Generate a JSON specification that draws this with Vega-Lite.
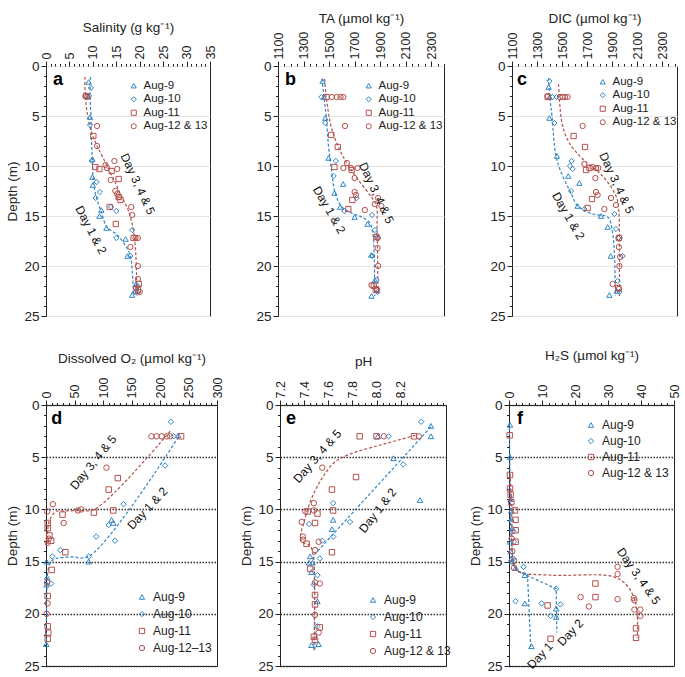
{
"$schema": "https://vega.github.io/schema/vega-lite/v6.json",
"padding": {"left": 5, "top": 10, "right": 5, "bottom": 5},
"datasets": {
"pts": [
{"p":"a","s":"Aug-9","v":9.1,"depth":1.6},{"p":"a","s":"Aug-9","v":9.0,"depth":3.0},{"p":"a","s":"Aug-9","v":9.4,"depth":5.1},{"p":"a","s":"Aug-9","v":9.9,"depth":9.3},{"p":"a","s":"Aug-9","v":9.9,"depth":11.1},{"p":"a","s":"Aug-9","v":10.0,"depth":11.9},{"p":"a","s":"Aug-9","v":11.8,"depth":14.4},{"p":"a","s":"Aug-9","v":11.4,"depth":15.0},{"p":"a","s":"Aug-9","v":12.9,"depth":16.2},{"p":"a","s":"Aug-9","v":17.0,"depth":17.3},{"p":"a","s":"Aug-9","v":17.4,"depth":19.0},{"p":"a","s":"Aug-9","v":19.2,"depth":21.8},{"p":"a","s":"Aug-9","v":19.5,"depth":22.5},{"p":"a","s":"Aug-9","v":18.4,"depth":22.9},
{"p":"a","s":"Aug-10","v":9.6,"depth":2.2},{"p":"a","s":"Aug-10","v":9.2,"depth":3.0},{"p":"a","s":"Aug-10","v":9.4,"depth":5.9},{"p":"a","s":"Aug-10","v":9.8,"depth":9.5},{"p":"a","s":"Aug-10","v":10.8,"depth":11.6},{"p":"a","s":"Aug-10","v":11.5,"depth":12.6},{"p":"a","s":"Aug-10","v":10.6,"depth":13.2},{"p":"a","s":"Aug-10","v":13.9,"depth":14.1},{"p":"a","s":"Aug-10","v":15.0,"depth":14.5},{"p":"a","s":"Aug-10","v":18.4,"depth":16.4},{"p":"a","s":"Aug-10","v":15.0,"depth":17.2},{"p":"a","s":"Aug-10","v":18.0,"depth":19.0},{"p":"a","s":"Aug-10","v":19.6,"depth":22.0},{"p":"a","s":"Aug-10","v":19.0,"depth":22.6},
{"p":"a","s":"Aug-11","v":8.6,"depth":3.0},{"p":"a","s":"Aug-11","v":10.1,"depth":7.0},{"p":"a","s":"Aug-11","v":10.5,"depth":10.1},{"p":"a","s":"Aug-11","v":11.4,"depth":10.3},{"p":"a","s":"Aug-11","v":14.0,"depth":10.5},{"p":"a","s":"Aug-11","v":15.5,"depth":11.3},{"p":"a","s":"Aug-11","v":15.5,"depth":13.1},{"p":"a","s":"Aug-11","v":15.9,"depth":13.4},{"p":"a","s":"Aug-11","v":13.6,"depth":14.1},{"p":"a","s":"Aug-11","v":14.9,"depth":15.8},{"p":"a","s":"Aug-11","v":18.7,"depth":17.2},{"p":"a","s":"Aug-11","v":19.8,"depth":21.8},{"p":"a","s":"Aug-11","v":19.6,"depth":22.4},
{"p":"a","s":"Aug-12 & 13","v":8.4,"depth":3.0},{"p":"a","s":"Aug-12 & 13","v":8.8,"depth":3.1},{"p":"a","s":"Aug-12 & 13","v":10.9,"depth":6.0},{"p":"a","s":"Aug-12 & 13","v":10.9,"depth":8.0},{"p":"a","s":"Aug-12 & 13","v":14.6,"depth":9.5},{"p":"a","s":"Aug-12 & 13","v":12.7,"depth":9.9},{"p":"a","s":"Aug-12 & 13","v":13.0,"depth":10.2},{"p":"a","s":"Aug-12 & 13","v":15.2,"depth":10.3},{"p":"a","s":"Aug-12 & 13","v":13.8,"depth":11.4},{"p":"a","s":"Aug-12 & 13","v":14.8,"depth":12.5},{"p":"a","s":"Aug-12 & 13","v":15.2,"depth":12.8},{"p":"a","s":"Aug-12 & 13","v":15.6,"depth":13.1},{"p":"a","s":"Aug-12 & 13","v":18.2,"depth":14.1},{"p":"a","s":"Aug-12 & 13","v":18.4,"depth":14.9},{"p":"a","s":"Aug-12 & 13","v":19.1,"depth":17.2},{"p":"a","s":"Aug-12 & 13","v":19.6,"depth":17.2},{"p":"a","s":"Aug-12 & 13","v":18.0,"depth":18.1},{"p":"a","s":"Aug-12 & 13","v":19.6,"depth":20.0},{"p":"a","s":"Aug-12 & 13","v":19.6,"depth":21.3},{"p":"a","s":"Aug-12 & 13","v":19.2,"depth":22.2},{"p":"a","s":"Aug-12 & 13","v":20.0,"depth":22.6},

{"p":"b","s":"Aug-9","v":1449,"depth":1.5},{"p":"b","s":"Aug-9","v":1460,"depth":3.1},{"p":"b","s":"Aug-9","v":1470,"depth":5.2},{"p":"b","s":"Aug-9","v":1496,"depth":9.2},{"p":"b","s":"Aug-9","v":1610,"depth":11.8},{"p":"b","s":"Aug-9","v":1542,"depth":12.7},{"p":"b","s":"Aug-9","v":1587,"depth":14.1},{"p":"b","s":"Aug-9","v":1700,"depth":15.1},{"p":"b","s":"Aug-9","v":1801,"depth":15.8},{"p":"b","s":"Aug-9","v":1830,"depth":18.9},{"p":"b","s":"Aug-9","v":1860,"depth":21.4},{"p":"b","s":"Aug-9","v":1832,"depth":23.0},
{"p":"b","s":"Aug-10","v":1440,"depth":3.1},{"p":"b","s":"Aug-10","v":1470,"depth":5.7},{"p":"b","s":"Aug-10","v":1553,"depth":9.5},{"p":"b","s":"Aug-10","v":1535,"depth":11.0},{"p":"b","s":"Aug-10","v":1716,"depth":13.2},{"p":"b","s":"Aug-10","v":1620,"depth":14.5},{"p":"b","s":"Aug-10","v":1837,"depth":14.9},{"p":"b","s":"Aug-10","v":1858,"depth":16.4},{"p":"b","s":"Aug-10","v":1870,"depth":17.0},{"p":"b","s":"Aug-10","v":1885,"depth":17.2},{"p":"b","s":"Aug-10","v":1840,"depth":19.0},{"p":"b","s":"Aug-10","v":1871,"depth":21.4},{"p":"b","s":"Aug-10","v":1880,"depth":22.6},
{"p":"b","s":"Aug-11","v":1480,"depth":3.1},{"p":"b","s":"Aug-11","v":1517,"depth":6.9},{"p":"b","s":"Aug-11","v":1568,"depth":8.1},{"p":"b","s":"Aug-11","v":1542,"depth":10.1},{"p":"b","s":"Aug-11","v":1677,"depth":10.4},{"p":"b","s":"Aug-11","v":1682,"depth":13.4},{"p":"b","s":"Aug-11","v":1651,"depth":14.3},{"p":"b","s":"Aug-11","v":1870,"depth":17.1},{"p":"b","s":"Aug-11","v":1850,"depth":22.0},{"p":"b","s":"Aug-11","v":1866,"depth":22.4},
{"p":"b","s":"Aug-12 & 13","v":1522,"depth":3.1},{"p":"b","s":"Aug-12 & 13","v":1560,"depth":3.1},{"p":"b","s":"Aug-12 & 13","v":1590,"depth":3.1},{"p":"b","s":"Aug-12 & 13","v":1612,"depth":3.1},{"p":"b","s":"Aug-12 & 13","v":1625,"depth":6.0},{"p":"b","s":"Aug-12 & 13","v":1640,"depth":9.7},{"p":"b","s":"Aug-12 & 13","v":1612,"depth":10.2},{"p":"b","s":"Aug-12 & 13","v":1672,"depth":10.2},{"p":"b","s":"Aug-12 & 13","v":1723,"depth":10.2},{"p":"b","s":"Aug-12 & 13","v":1700,"depth":11.2},{"p":"b","s":"Aug-12 & 13","v":1700,"depth":12.6},{"p":"b","s":"Aug-12 & 13","v":1710,"depth":12.9},{"p":"b","s":"Aug-12 & 13","v":1884,"depth":13.2},{"p":"b","s":"Aug-12 & 13","v":1858,"depth":13.8},{"p":"b","s":"Aug-12 & 13","v":1910,"depth":14.0},{"p":"b","s":"Aug-12 & 13","v":1780,"depth":14.4},{"p":"b","s":"Aug-12 & 13","v":1880,"depth":17.2},{"p":"b","s":"Aug-12 & 13","v":1880,"depth":18.2},{"p":"b","s":"Aug-12 & 13","v":1884,"depth":20.0},{"p":"b","s":"Aug-12 & 13","v":1832,"depth":21.9},{"p":"b","s":"Aug-12 & 13","v":1875,"depth":22.3},

{"p":"c","s":"Aug-9","v":1393,"depth":2.1},{"p":"c","s":"Aug-9","v":1400,"depth":3.1},{"p":"c","s":"Aug-9","v":1399,"depth":5.2},{"p":"c","s":"Aug-9","v":1460,"depth":9.0},{"p":"c","s":"Aug-9","v":1550,"depth":11.0},{"p":"c","s":"Aug-9","v":1639,"depth":11.7},{"p":"c","s":"Aug-9","v":1625,"depth":14.0},{"p":"c","s":"Aug-9","v":1812,"depth":15.0},{"p":"c","s":"Aug-9","v":1865,"depth":16.1},{"p":"c","s":"Aug-9","v":1890,"depth":19.0},{"p":"c","s":"Aug-9","v":1940,"depth":22.5},{"p":"c","s":"Aug-9","v":1879,"depth":22.9},
{"p":"c","s":"Aug-10","v":1399,"depth":1.5},{"p":"c","s":"Aug-10","v":1425,"depth":3.1},{"p":"c","s":"Aug-10","v":1457,"depth":3.1},{"p":"c","s":"Aug-10","v":1439,"depth":5.7},{"p":"c","s":"Aug-10","v":1577,"depth":9.5},{"p":"c","s":"Aug-10","v":1564,"depth":10.0},{"p":"c","s":"Aug-10","v":1585,"depth":10.3},{"p":"c","s":"Aug-10","v":1572,"depth":12.5},{"p":"c","s":"Aug-10","v":1679,"depth":14.3},{"p":"c","s":"Aug-10","v":1919,"depth":14.8},{"p":"c","s":"Aug-10","v":1932,"depth":16.3},{"p":"c","s":"Aug-10","v":1950,"depth":17.2},{"p":"c","s":"Aug-10","v":1985,"depth":19.0},{"p":"c","s":"Aug-10","v":1945,"depth":21.5},{"p":"c","s":"Aug-10","v":1960,"depth":22.6},
{"p":"c","s":"Aug-11","v":1385,"depth":3.1},{"p":"c","s":"Aug-11","v":1593,"depth":7.0},{"p":"c","s":"Aug-11","v":1684,"depth":8.1},{"p":"c","s":"Aug-11","v":1692,"depth":10.4},{"p":"c","s":"Aug-11","v":1720,"depth":10.2},{"p":"c","s":"Aug-11","v":1740,"depth":13.3},{"p":"c","s":"Aug-11","v":1705,"depth":14.2},{"p":"c","s":"Aug-11","v":1955,"depth":17.2},{"p":"c","s":"Aug-11","v":1950,"depth":22.2},
{"p":"c","s":"Aug-12 & 13","v":1385,"depth":3.0},{"p":"c","s":"Aug-12 & 13","v":1484,"depth":3.1},{"p":"c","s":"Aug-12 & 13","v":1505,"depth":3.1},{"p":"c","s":"Aug-12 & 13","v":1525,"depth":3.1},{"p":"c","s":"Aug-12 & 13","v":1545,"depth":3.1},{"p":"c","s":"Aug-12 & 13","v":1665,"depth":6.0},{"p":"c","s":"Aug-12 & 13","v":1679,"depth":9.8},{"p":"c","s":"Aug-12 & 13","v":1745,"depth":10.1},{"p":"c","s":"Aug-12 & 13","v":1772,"depth":10.2},{"p":"c","s":"Aug-12 & 13","v":1790,"depth":10.2},{"p":"c","s":"Aug-12 & 13","v":1767,"depth":11.2},{"p":"c","s":"Aug-12 & 13","v":1772,"depth":12.6},{"p":"c","s":"Aug-12 & 13","v":1785,"depth":12.9},{"p":"c","s":"Aug-12 & 13","v":1892,"depth":13.2},{"p":"c","s":"Aug-12 & 13","v":1839,"depth":14.3},{"p":"c","s":"Aug-12 & 13","v":1932,"depth":13.9},{"p":"c","s":"Aug-12 & 13","v":1960,"depth":17.2},{"p":"c","s":"Aug-12 & 13","v":1955,"depth":18.1},{"p":"c","s":"Aug-12 & 13","v":1965,"depth":19.1},{"p":"c","s":"Aug-12 & 13","v":1959,"depth":20.0},{"p":"c","s":"Aug-12 & 13","v":1905,"depth":21.8},{"p":"c","s":"Aug-12 & 13","v":1955,"depth":22.3},

{"p":"d","s":"Aug-9","v":232,"depth":2.9},{"p":"d","s":"Aug-9","v":115,"depth":11.0},{"p":"d","s":"Aug-9","v":118,"depth":11.3},{"p":"d","s":"Aug-9","v":75,"depth":15.0},{"p":"d","s":"Aug-9","v":1,"depth":15.0},{"p":"d","s":"Aug-9","v":2,"depth":16.5},{"p":"d","s":"Aug-9","v":1,"depth":17.2},{"p":"d","s":"Aug-9","v":0.5,"depth":22.9},
{"p":"d","s":"Aug-10","v":219,"depth":1.6},{"p":"d","s":"Aug-10","v":224,"depth":3.0},{"p":"d","s":"Aug-10","v":209,"depth":5.8},{"p":"d","s":"Aug-10","v":136,"depth":9.5},{"p":"d","s":"Aug-10","v":110,"depth":11.5},{"p":"d","s":"Aug-10","v":88,"depth":12.6},{"p":"d","s":"Aug-10","v":121,"depth":13.0},{"p":"d","s":"Aug-10","v":25,"depth":13.9},{"p":"d","s":"Aug-10","v":11,"depth":14.5},{"p":"d","s":"Aug-10","v":75,"depth":14.5},{"p":"d","s":"Aug-10","v":9,"depth":17.1},
{"p":"d","s":"Aug-11","v":237,"depth":3.0},{"p":"d","s":"Aug-11","v":126,"depth":7.0},{"p":"d","s":"Aug-11","v":110,"depth":8.1},{"p":"d","s":"Aug-11","v":84,"depth":10.3},{"p":"d","s":"Aug-11","v":118,"depth":10.1},{"p":"d","s":"Aug-11","v":29,"depth":10.5},{"p":"d","s":"Aug-11","v":3,"depth":11.3},{"p":"d","s":"Aug-11","v":3,"depth":11.8},{"p":"d","s":"Aug-11","v":6,"depth":12.5},{"p":"d","s":"Aug-11","v":9,"depth":13.0},{"p":"d","s":"Aug-11","v":34,"depth":14.1},{"p":"d","s":"Aug-11","v":10,"depth":15.8},{"p":"d","s":"Aug-11","v":3,"depth":18.3},{"p":"d","s":"Aug-11","v":3,"depth":21.2},{"p":"d","s":"Aug-11","v":4,"depth":21.8},{"p":"d","s":"Aug-11","v":3,"depth":22.4},
{"p":"d","s":"Aug-12 & 13","v":185,"depth":3.0},{"p":"d","s":"Aug-12 & 13","v":194,"depth":3.0},{"p":"d","s":"Aug-12 & 13","v":203,"depth":3.0},{"p":"d","s":"Aug-12 & 13","v":212,"depth":3.0},{"p":"d","s":"Aug-12 & 13","v":218,"depth":3.0},{"p":"d","s":"Aug-12 & 13","v":106,"depth":6.0},{"p":"d","s":"Aug-12 & 13","v":12,"depth":9.5},{"p":"d","s":"Aug-12 & 13","v":56,"depth":10.1},{"p":"d","s":"Aug-12 & 13","v":62,"depth":10.0},{"p":"d","s":"Aug-12 & 13","v":2,"depth":10.2},{"p":"d","s":"Aug-12 & 13","v":31,"depth":11.3},{"p":"d","s":"Aug-12 & 13","v":5,"depth":12.8},{"p":"d","s":"Aug-12 & 13","v":3,"depth":13.2},{"p":"d","s":"Aug-12 & 13","v":2,"depth":17.0},{"p":"d","s":"Aug-12 & 13","v":3,"depth":19.0},{"p":"d","s":"Aug-12 & 13","v":1,"depth":20.0},

{"p":"e","s":"Aug-9","v":8.45,"depth":2.0},{"p":"e","s":"Aug-9","v":8.45,"depth":3.0},{"p":"e","s":"Aug-9","v":8.01,"depth":3.0},{"p":"e","s":"Aug-9","v":8.14,"depth":5.1},{"p":"e","s":"Aug-9","v":8.36,"depth":9.1},{"p":"e","s":"Aug-9","v":7.64,"depth":11.0},{"p":"e","s":"Aug-9","v":7.63,"depth":11.9},{"p":"e","s":"Aug-9","v":7.45,"depth":14.5},{"p":"e","s":"Aug-9","v":7.44,"depth":15.1},{"p":"e","s":"Aug-9","v":7.47,"depth":15.1},{"p":"e","s":"Aug-9","v":7.46,"depth":16.0},{"p":"e","s":"Aug-9","v":7.51,"depth":18.8},{"p":"e","s":"Aug-9","v":7.46,"depth":23.0},{"p":"e","s":"Aug-9","v":7.52,"depth":22.9},
{"p":"e","s":"Aug-10","v":8.37,"depth":1.6},{"p":"e","s":"Aug-10","v":8.10,"depth":3.0},{"p":"e","s":"Aug-10","v":8.22,"depth":5.7},{"p":"e","s":"Aug-10","v":7.64,"depth":9.4},{"p":"e","s":"Aug-10","v":7.78,"depth":11.2},{"p":"e","s":"Aug-10","v":7.44,"depth":11.4},{"p":"e","s":"Aug-10","v":7.64,"depth":12.6},{"p":"e","s":"Aug-10","v":7.55,"depth":13.0},{"p":"e","s":"Aug-10","v":7.53,"depth":14.7},{"p":"e","s":"Aug-10","v":7.51,"depth":16.3},{"p":"e","s":"Aug-10","v":7.48,"depth":17.2},{"p":"e","s":"Aug-10","v":7.51,"depth":21.2},
{"p":"e","s":"Aug-11","v":8.31,"depth":3.0},{"p":"e","s":"Aug-11","v":7.86,"depth":3.0},{"p":"e","s":"Aug-11","v":8.0,"depth":3.0},{"p":"e","s":"Aug-11","v":7.83,"depth":6.9},{"p":"e","s":"Aug-11","v":7.63,"depth":8.1},{"p":"e","s":"Aug-11","v":7.43,"depth":10.2},{"p":"e","s":"Aug-11","v":7.51,"depth":10.4},{"p":"e","s":"Aug-11","v":7.64,"depth":10.1},{"p":"e","s":"Aug-11","v":7.49,"depth":11.3},{"p":"e","s":"Aug-11","v":7.42,"depth":13.3},{"p":"e","s":"Aug-11","v":7.63,"depth":14.1},{"p":"e","s":"Aug-11","v":7.45,"depth":15.7},{"p":"e","s":"Aug-11","v":7.49,"depth":18.2},{"p":"e","s":"Aug-11","v":7.49,"depth":19.1},{"p":"e","s":"Aug-11","v":7.53,"depth":21.3},{"p":"e","s":"Aug-11","v":7.48,"depth":22.2},{"p":"e","s":"Aug-11","v":7.49,"depth":22.5},
{"p":"e","s":"Aug-12 & 13","v":8.35,"depth":3.0},{"p":"e","s":"Aug-12 & 13","v":8.06,"depth":3.0},{"p":"e","s":"Aug-12 & 13","v":7.55,"depth":6.0},{"p":"e","s":"Aug-12 & 13","v":7.48,"depth":9.4},{"p":"e","s":"Aug-12 & 13","v":7.41,"depth":10.2},{"p":"e","s":"Aug-12 & 13","v":7.48,"depth":10.1},{"p":"e","s":"Aug-12 & 13","v":7.38,"depth":11.2},{"p":"e","s":"Aug-12 & 13","v":7.39,"depth":12.6},{"p":"e","s":"Aug-12 & 13","v":7.39,"depth":12.9},{"p":"e","s":"Aug-12 & 13","v":7.52,"depth":13.1},{"p":"e","s":"Aug-12 & 13","v":7.49,"depth":13.9},{"p":"e","s":"Aug-12 & 13","v":7.49,"depth":17.0},{"p":"e","s":"Aug-12 & 13","v":7.53,"depth":17.1},{"p":"e","s":"Aug-12 & 13","v":7.49,"depth":20.1},{"p":"e","s":"Aug-12 & 13","v":7.52,"depth":21.8},

{"p":"f","s":"Aug-9","v":0.3,"depth":1.9},{"p":"f","s":"Aug-9","v":0.3,"depth":5.0},{"p":"f","s":"Aug-9","v":0.5,"depth":9.0},{"p":"f","s":"Aug-9","v":0.7,"depth":10.1},{"p":"f","s":"Aug-9","v":0.7,"depth":10.9},{"p":"f","s":"Aug-9","v":1.0,"depth":11.8},{"p":"f","s":"Aug-9","v":0.3,"depth":13.1},{"p":"f","s":"Aug-9","v":0.5,"depth":14.0},{"p":"f","s":"Aug-9","v":0.7,"depth":14.7},{"p":"f","s":"Aug-9","v":1.0,"depth":15.0},{"p":"f","s":"Aug-9","v":2.0,"depth":15.6},{"p":"f","s":"Aug-9","v":4.8,"depth":16.3},{"p":"f","s":"Aug-9","v":4.8,"depth":19.0},{"p":"f","s":"Aug-9","v":14.3,"depth":19.5},{"p":"f","s":"Aug-9","v":14.3,"depth":20.3},{"p":"f","s":"Aug-9","v":6.8,"depth":23.1},
{"p":"f","s":"Aug-10","v":1.3,"depth":12.1},{"p":"f","s":"Aug-10","v":1.5,"depth":13.1},{"p":"f","s":"Aug-10","v":1.3,"depth":14.7},{"p":"f","s":"Aug-10","v":4.4,"depth":15.5},{"p":"f","s":"Aug-10","v":14.3,"depth":17.6},{"p":"f","s":"Aug-10","v":2.0,"depth":18.8},{"p":"f","s":"Aug-10","v":9.9,"depth":19.0},{"p":"f","s":"Aug-10","v":15.6,"depth":19.1},{"p":"f","s":"Aug-10","v":12.6,"depth":20.2},
{"p":"f","s":"Aug-11","v":0.2,"depth":2.9},{"p":"f","s":"Aug-11","v":0.3,"depth":6.7},{"p":"f","s":"Aug-11","v":0.3,"depth":8.0},{"p":"f","s":"Aug-11","v":0.5,"depth":8.6},{"p":"f","s":"Aug-11","v":0.7,"depth":9.3},{"p":"f","s":"Aug-11","v":1.8,"depth":10.1},{"p":"f","s":"Aug-11","v":2.0,"depth":11.0},{"p":"f","s":"Aug-11","v":2.0,"depth":12.0},{"p":"f","s":"Aug-11","v":2.0,"depth":13.1},{"p":"f","s":"Aug-11","v":26.2,"depth":17.1},{"p":"f","s":"Aug-11","v":26.2,"depth":18.4},{"p":"f","s":"Aug-11","v":11.7,"depth":19.2},{"p":"f","s":"Aug-11","v":12.6,"depth":22.4},{"p":"f","s":"Aug-11","v":38.5,"depth":21.4},{"p":"f","s":"Aug-11","v":38.5,"depth":22.3},
{"p":"f","s":"Aug-12 & 13","v":0.8,"depth":12.8},{"p":"f","s":"Aug-12 & 13","v":1.0,"depth":14.0},{"p":"f","s":"Aug-12 & 13","v":1.5,"depth":14.9},{"p":"f","s":"Aug-12 & 13","v":1.5,"depth":15.6},{"p":"f","s":"Aug-12 & 13","v":32.9,"depth":15.5},{"p":"f","s":"Aug-12 & 13","v":32.9,"depth":16.2},{"p":"f","s":"Aug-12 & 13","v":21.7,"depth":18.4},{"p":"f","s":"Aug-12 & 13","v":24.2,"depth":19.3},{"p":"f","s":"Aug-12 & 13","v":32.9,"depth":18.6},{"p":"f","s":"Aug-12 & 13","v":37.8,"depth":18.5},{"p":"f","s":"Aug-12 & 13","v":38.0,"depth":18.7},{"p":"f","s":"Aug-12 & 13","v":38.0,"depth":19.6},{"p":"f","s":"Aug-12 & 13","v":39.8,"depth":19.6},{"p":"f","s":"Aug-12 & 13","v":39.8,"depth":20.2}
],
"fits": [
{"p":"a","f":"b1","v":9.5,"depth":1.1},{"p":"a","f":"b1","v":9.4,"depth":3.0},{"p":"a","f":"b1","v":9.6,"depth":5.0},{"p":"a","f":"b1","v":9.7,"depth":7.3},{"p":"a","f":"b1","v":9.9,"depth":9.3},{"p":"a","f":"b1","v":10.2,"depth":11.9},{"p":"a","f":"b1","v":11.0,"depth":13.5},{"p":"a","f":"b1","v":11.8,"depth":14.6},{"p":"a","f":"b1","v":13.0,"depth":16.1},{"p":"a","f":"b1","v":15.2,"depth":16.9},{"p":"a","f":"b1","v":17.0,"depth":18.0},{"p":"a","f":"b1","v":18.0,"depth":19.0},{"p":"a","f":"b1","v":18.4,"depth":20.5},{"p":"a","f":"b1","v":18.7,"depth":23.0},
{"p":"a","f":"r","v":8.3,"depth":1.1},{"p":"a","f":"r","v":8.4,"depth":3.0},{"p":"a","f":"r","v":8.9,"depth":5.0},{"p":"a","f":"r","v":9.7,"depth":6.6},{"p":"a","f":"r","v":10.8,"depth":7.9},{"p":"a","f":"r","v":12.3,"depth":9.3},{"p":"a","f":"r","v":14.5,"depth":11.4},{"p":"a","f":"r","v":16.0,"depth":12.9},{"p":"a","f":"r","v":17.7,"depth":14.6},{"p":"a","f":"r","v":18.7,"depth":16.6},{"p":"a","f":"r","v":19.1,"depth":18.3},{"p":"a","f":"r","v":19.3,"depth":20.5},{"p":"a","f":"r","v":19.4,"depth":23.0},
{"p":"b","f":"b1","v":1444,"depth":1.3},{"p":"b","f":"b1","v":1460,"depth":3.1},{"p":"b","f":"b1","v":1478,"depth":5.1},{"p":"b","f":"b1","v":1496,"depth":8.1},{"p":"b","f":"b1","v":1522,"depth":10.7},{"p":"b","f":"b1","v":1548,"depth":12.7},{"p":"b","f":"b1","v":1600,"depth":14.1},{"p":"b","f":"b1","v":1677,"depth":14.7},{"p":"b","f":"b1","v":1755,"depth":15.1},{"p":"b","f":"b1","v":1820,"depth":15.7},{"p":"b","f":"b1","v":1845,"depth":17.0},{"p":"b","f":"b1","v":1853,"depth":18.7},{"p":"b","f":"b1","v":1858,"depth":23.0},
{"p":"b","f":"r","v":1465,"depth":1.3},{"p":"b","f":"r","v":1478,"depth":3.1},{"p":"b","f":"r","v":1517,"depth":6.1},{"p":"b","f":"r","v":1573,"depth":8.1},{"p":"b","f":"r","v":1638,"depth":9.7},{"p":"b","f":"r","v":1729,"depth":11.4},{"p":"b","f":"r","v":1832,"depth":13.1},{"p":"b","f":"r","v":1871,"depth":14.0},{"p":"b","f":"r","v":1876,"depth":16.0},{"p":"b","f":"r","v":1884,"depth":23.0},
{"p":"c","f":"b1","v":1393,"depth":1.2},{"p":"c","f":"b1","v":1404,"depth":3.3},{"p":"c","f":"b1","v":1420,"depth":5.0},{"p":"c","f":"b1","v":1452,"depth":9.0},{"p":"c","f":"b1","v":1505,"depth":11.0},{"p":"c","f":"b1","v":1572,"depth":12.7},{"p":"c","f":"b1","v":1625,"depth":14.0},{"p":"c","f":"b1","v":1745,"depth":14.8},{"p":"c","f":"b1","v":1852,"depth":15.0},{"p":"c","f":"b1","v":1879,"depth":15.3},{"p":"c","f":"b1","v":1905,"depth":16.7},{"p":"c","f":"b1","v":1919,"depth":18.7},{"p":"c","f":"b1","v":1927,"depth":23.0},
{"p":"c","f":"r","v":1473,"depth":1.8},{"p":"c","f":"r","v":1479,"depth":3.3},{"p":"c","f":"r","v":1505,"depth":6.0},{"p":"c","f":"r","v":1559,"depth":7.7},{"p":"c","f":"r","v":1665,"depth":9.3},{"p":"c","f":"r","v":1825,"depth":11.0},{"p":"c","f":"r","v":1932,"depth":13.0},{"p":"c","f":"r","v":1953,"depth":14.3},{"p":"c","f":"r","v":1959,"depth":16.7},{"p":"c","f":"r","v":1959,"depth":23.0},
{"p":"d","f":"b1","v":232,"depth":3.1},{"p":"d","f":"b1","v":75,"depth":14.5},{"p":"d","f":"b1","v":44,"depth":14.55},{"p":"d","f":"b1","v":18,"depth":14.7},{"p":"d","f":"b1","v":9,"depth":15.0},{"p":"d","f":"b1","v":4,"depth":15.7},{"p":"d","f":"b1","v":2,"depth":17.0},{"p":"d","f":"b1","v":1,"depth":19.0},{"p":"d","f":"b1","v":0.6,"depth":22.9},
{"p":"d","f":"r","v":218,"depth":2.5},{"p":"d","f":"r","v":85,"depth":10.0},{"p":"d","f":"r","v":60,"depth":10.1},{"p":"d","f":"r","v":35,"depth":10.15},{"p":"d","f":"r","v":17.6,"depth":10.2},{"p":"d","f":"r","v":5.9,"depth":11.1},{"p":"d","f":"r","v":2.9,"depth":12.2},{"p":"d","f":"r","v":1.8,"depth":13.5},
{"p":"e","f":"b1","v":8.45,"depth":2.1},{"p":"e","f":"b1","v":7.48,"depth":14.4},{"p":"e","f":"b1","v":7.485,"depth":16.0},{"p":"e","f":"b1","v":7.49,"depth":23.5},
{"p":"e","f":"r","v":8.32,"depth":2.9},{"p":"e","f":"r","v":8.2,"depth":3.3},{"p":"e","f":"r","v":8.01,"depth":3.9},{"p":"e","f":"r","v":7.78,"depth":4.7},{"p":"e","f":"r","v":7.65,"depth":5.5},{"p":"e","f":"r","v":7.56,"depth":6.8},{"p":"e","f":"r","v":7.5,"depth":8.0},{"p":"e","f":"r","v":7.44,"depth":9.6},{"p":"e","f":"r","v":7.4,"depth":11.2},{"p":"e","f":"r","v":7.37,"depth":12.5},{"p":"e","f":"r","v":7.38,"depth":13.1},{"p":"e","f":"r","v":7.45,"depth":13.5},{"p":"e","f":"r","v":7.48,"depth":15.1},{"p":"e","f":"r","v":7.48,"depth":23.5},
{"p":"f","f":"b1","v":0.1,"depth":1.7},{"p":"f","f":"b1","v":0.5,"depth":11.8},{"p":"f","f":"b1","v":1.2,"depth":15.2},{"p":"f","f":"b1","v":2.6,"depth":15.9},{"p":"f","f":"b1","v":5.6,"depth":16.2},{"p":"f","f":"b1","v":6.6,"depth":23.3},
{"p":"f","f":"b2","v":2.6,"depth":15.9},{"p":"f","f":"b2","v":14.3,"depth":17.6},{"p":"f","f":"b2","v":14.5,"depth":21.8},
{"p":"f","f":"r","v":0.3,"depth":6.6},{"p":"f","f":"r","v":0.8,"depth":9.3},{"p":"f","f":"r","v":1.3,"depth":15.0},{"p":"f","f":"r","v":2.5,"depth":15.9},{"p":"f","f":"r","v":12.8,"depth":16.3},{"p":"f","f":"r","v":31.1,"depth":16.4},{"p":"f","f":"r","v":35.2,"depth":17.1},{"p":"f","f":"r","v":37.8,"depth":18.4},{"p":"f","f":"r","v":38.8,"depth":19.8},{"p":"f","f":"r","v":38.9,"depth":22.3}
],
"notes": [
{"p":"a","label":"Day 3, 4 & 5","v":19.6,"depth":11.8},{"p":"a","label":"Day 1 & 2","v":9.6,"depth":16.4},
{"p":"b","label":"Day 3, 4 & 5","v":1871,"depth":12.7},{"p":"b","label":"Day 1 & 2","v":1501,"depth":14.4},
{"p":"c","label":"Day 3, 4 & 5","v":1937,"depth":11.7},{"p":"c","label":"Day 1 & 2","v":1551,"depth":15.0},
{"p":"d","label":"Day 3, 4 & 5","v":83,"depth":5.5},{"p":"d","label":"Day 1 & 2","v":178,"depth":9.9},
{"p":"e","label":"Day 3, 4 & 5","v":7.51,"depth":4.9},{"p":"e","label":"Day 1 & 2","v":8.01,"depth":10.1},
{"p":"f","label":"Day 3, 4 & 5","v":39.3,"depth":16.4},{"p":"f","label":"Day 1","v":9.4,"depth":24.0},{"p":"f","label":"Day 2","v":18.6,"depth":21.8}
],
"letters": [
{"p":"a","label":"a","v":1.5,"depth":1.9},{"p":"b","label":"b","v":1155,"depth":1.9},{"p":"c","label":"c","v":1139,"depth":1.9},
{"p":"d","label":"d","v":9,"depth":1.8},{"p":"e","label":"e","v":7.25,"depth":1.8},{"p":"f","label":"f","v":2.4,"depth":1.8}
]
},
"config": {
"font": "Liberation Sans",
"view": {"stroke": "#222", "strokeWidth": 1},
"axis": {"labelFont": "Liberation Sans", "titleFont": "Liberation Sans", "labelFontSize": 12.5, "titleFontSize": 13.5, "titleFontWeight": "normal", "labelColor": "#222", "titleColor": "#222", "tickColor": "#222", "domain": false, "labelPadding": 2, "tickSize": 5, "titlePadding": 8},
"axisY": {"labelFontSize": 13.5, "titlePadding": 4},
"legend": {"labelFont": "Liberation Sans", "labelColor": "#222"},
"text": {"font": "Liberation Sans", "color": "#111"}
},
"spacing": 24,
"resolve": {"scale": {"color": "independent", "shape": "independent"}, "legend": {"color": "independent", "shape": "independent"}},
"vconcat": [
{
"spacing": 68, "bounds": "flush",
"resolve": {"scale": {"color": "independent", "shape": "independent"}, "legend": {"color": "independent", "shape": "independent"}},
"hconcat": [
{
"width": 164, "height": 250,
"resolve": {"axis": {"x": "independent", "y": "independent"}},
"layer": [
{"data": {"name": "fits"}, "transform": [{"filter": "datum.p=='a' && datum.f!='r'"}],
 "mark": {"type": "line", "color": "#2f86c6", "strokeDash": [3, 2], "strokeWidth": 1.2, "interpolate": "catmull-rom"},
 "encoding": {
  "x": {"field": "v", "type": "quantitative", "scale": {"domain": [0, 35], "nice": false, "zero": false}, "axis": {"orient": "top", "values": [0,1,2,3,4,5,6,7,8,9,10,11,12,13,14,15,16,17,18,19,20,21,22,23,24,25,26,27,28,29,30,31,32,33,34,35], "labels": false, "tickSize": 2.5, "grid": false, "title": null}},
  "y": {"field": "depth", "type": "quantitative", "scale": {"domain": [0, 25], "reverse": true, "nice": false, "zero": false}, "axis": {"orient": "left", "values": [0,1,2,3,4,5,6,7,8,9,10,11,12,13,14,15,16,17,18,19,20,21,22,23,24,25], "labels": false, "tickSize": 2.5, "grid": false, "title": null}},
  "detail": {"field": "f"}, "order": {"value": null}}},
{"data": {"name": "fits"}, "transform": [{"filter": "datum.p=='a' && datum.f=='r'"}],
 "mark": {"type": "line", "color": "#b5504c", "strokeDash": [3, 2], "strokeWidth": 1.2, "interpolate": "catmull-rom"},
 "encoding": {
  "x": {"field": "v", "type": "quantitative", "scale": {"domain": [0, 35], "nice": false, "zero": false}, "axis": null},
  "y": {"field": "depth", "type": "quantitative", "scale": {"domain": [0, 25], "reverse": true, "nice": false, "zero": false}, "axis": null},
  "order": {"value": null}}},
{"data": {"name": "pts"}, "transform": [{"filter": "datum.p=='a'"}],
 "mark": {"type": "point", "filled": false, "size": 28, "strokeWidth": 1, "opacity": 1},
 "encoding": {
  "x": {"field": "v", "type": "quantitative", "scale": {"domain": [0, 35], "nice": false, "zero": false}, "axis": {"orient": "top", "values": [0,5,10,15,20,25,30,35], "labelAngle": 270, "title": "Salinity (g kg⁻¹)", "grid": false, "titlePadding": 11}},
  "y": {"field": "depth", "type": "quantitative", "scale": {"domain": [0, 25], "reverse": true, "nice": false, "zero": false}, "axis": {"orient": "left", "values": [0,5,10,15,20,25], "title": "Depth (m)", "grid": true, "gridColor": "#e4e4e4"}},
  "color": {"field": "s", "type": "nominal", "scale": {"domain": ["Aug-9","Aug-10","Aug-11","Aug-12 & 13"], "range": ["#2f86c6","#2f86c6","#b5504c","#b5504c"]}, "legend": {"orient": "none", "legendX": 82, "legendY": 14, "title": null, "labelFontSize": 11.5, "symbolSize": 26, "symbolStrokeWidth": 1, "rowPadding": 0.5, "labelOffset": 4}},
  "shape": {"field": "s", "type": "nominal", "scale": {"domain": ["Aug-9","Aug-10","Aug-11","Aug-12 & 13"], "range": ["triangle-up","diamond","square","circle"]}, "legend": {"orient": "none", "legendX": 82, "legendY": 14, "title": null, "labelFontSize": 11.5, "symbolSize": 26, "symbolStrokeWidth": 1, "rowPadding": 0.5, "labelOffset": 4}}}},
{"data": {"name": "notes"}, "transform": [{"filter": "datum.p=='a' && datum.label=='Day 3, 4 & 5'"}],
 "mark": {"type": "text", "angle": 65, "fontSize": 12, "align": "center", "baseline": "middle"},
 "encoding": {"x": {"field": "v", "type": "quantitative", "scale": {"domain": [0, 35], "nice": false, "zero": false}, "axis": null}, "y": {"field": "depth", "type": "quantitative", "scale": {"domain": [0, 25], "reverse": true, "nice": false, "zero": false}, "axis": null}, "text": {"field": "label"}}},
{"data": {"name": "notes"}, "transform": [{"filter": "datum.p=='a' && datum.label=='Day 1 & 2'"}],
 "mark": {"type": "text", "angle": 62, "fontSize": 12, "align": "center", "baseline": "middle"},
 "encoding": {"x": {"field": "v", "type": "quantitative", "scale": {"domain": [0, 35], "nice": false, "zero": false}, "axis": null}, "y": {"field": "depth", "type": "quantitative", "scale": {"domain": [0, 25], "reverse": true, "nice": false, "zero": false}, "axis": null}, "text": {"field": "label"}}},
{"data": {"name": "letters"}, "transform": [{"filter": "datum.p=='a'"}],
 "mark": {"type": "text", "fontSize": 18, "fontWeight": "bold", "align": "left", "baseline": "alphabetic", "color": "#000"},
 "encoding": {"x": {"field": "v", "type": "quantitative", "scale": {"domain": [0, 35], "nice": false, "zero": false}, "axis": null}, "y": {"field": "depth", "type": "quantitative", "scale": {"domain": [0, 25], "reverse": true, "nice": false, "zero": false}, "axis": null}, "text": {"field": "label"}}}
]
},
{
"width": 166, "height": 250,
"resolve": {"axis": {"x": "independent", "y": "independent"}},
"layer": [
{"data": {"name": "fits"}, "transform": [{"filter": "datum.p=='b' && datum.f!='r'"}],
 "mark": {"type": "line", "color": "#2f86c6", "strokeDash": [3, 2], "strokeWidth": 1.2, "interpolate": "catmull-rom"},
 "encoding": {
  "x": {"field": "v", "type": "quantitative", "scale": {"domain": [1100, 2400], "nice": false, "zero": false}, "axis": {"orient": "top", "values": [1100,1150,1200,1250,1300,1350,1400,1450,1500,1550,1600,1650,1700,1750,1800,1850,1900,1950,2000,2050,2100,2150,2200,2250,2300,2350,2400], "labels": false, "tickSize": 2.5, "grid": false, "title": null}},
  "y": {"field": "depth", "type": "quantitative", "scale": {"domain": [0, 25], "reverse": true, "nice": false, "zero": false}, "axis": {"orient": "left", "values": [0,1,2,3,4,5,6,7,8,9,10,11,12,13,14,15,16,17,18,19,20,21,22,23,24,25], "labels": false, "tickSize": 2.5, "grid": false, "title": null}},
  "detail": {"field": "f"}, "order": {"value": null}}},
{"data": {"name": "fits"}, "transform": [{"filter": "datum.p=='b' && datum.f=='r'"}],
 "mark": {"type": "line", "color": "#b5504c", "strokeDash": [3, 2], "strokeWidth": 1.2, "interpolate": "catmull-rom"},
 "encoding": {
  "x": {"field": "v", "type": "quantitative", "scale": {"domain": [1100, 2400], "nice": false, "zero": false}, "axis": null},
  "y": {"field": "depth", "type": "quantitative", "scale": {"domain": [0, 25], "reverse": true, "nice": false, "zero": false}, "axis": null},
  "order": {"value": null}}},
{"data": {"name": "pts"}, "transform": [{"filter": "datum.p=='b'"}],
 "mark": {"type": "point", "filled": false, "size": 28, "strokeWidth": 1, "opacity": 1},
 "encoding": {
  "x": {"field": "v", "type": "quantitative", "scale": {"domain": [1100, 2400], "nice": false, "zero": false}, "axis": {"orient": "top", "values": [1100,1300,1500,1700,1900,2100,2300], "format": "d", "labelAngle": 270, "title": "TA (µmol kg⁻¹)", "grid": false, "titlePadding": 6}},
  "y": {"field": "depth", "type": "quantitative", "scale": {"domain": [0, 25], "reverse": true, "nice": false, "zero": false}, "axis": {"orient": "left", "values": [0,5,10,15,20,25], "title": null, "grid": true, "gridColor": "#e4e4e4"}},
  "color": {"field": "s", "type": "nominal", "scale": {"domain": ["Aug-9","Aug-10","Aug-11","Aug-12 & 13"], "range": ["#2f86c6","#2f86c6","#b5504c","#b5504c"]}, "legend": {"orient": "none", "legendX": 85, "legendY": 14, "title": null, "labelFontSize": 11.5, "symbolSize": 26, "symbolStrokeWidth": 1, "rowPadding": 0.5, "labelOffset": 4}},
  "shape": {"field": "s", "type": "nominal", "scale": {"domain": ["Aug-9","Aug-10","Aug-11","Aug-12 & 13"], "range": ["triangle-up","diamond","square","circle"]}, "legend": {"orient": "none", "legendX": 85, "legendY": 14, "title": null, "labelFontSize": 11.5, "symbolSize": 26, "symbolStrokeWidth": 1, "rowPadding": 0.5, "labelOffset": 4}}}},
{"data": {"name": "notes"}, "transform": [{"filter": "datum.p=='b' && datum.label=='Day 3, 4 & 5'"}],
 "mark": {"type": "text", "angle": 65, "fontSize": 12, "align": "center", "baseline": "middle"},
 "encoding": {"x": {"field": "v", "type": "quantitative", "scale": {"domain": [1100, 2400], "nice": false, "zero": false}, "axis": null}, "y": {"field": "depth", "type": "quantitative", "scale": {"domain": [0, 25], "reverse": true, "nice": false, "zero": false}, "axis": null}, "text": {"field": "label"}}},
{"data": {"name": "notes"}, "transform": [{"filter": "datum.p=='b' && datum.label=='Day 1 & 2'"}],
 "mark": {"type": "text", "angle": 60, "fontSize": 12, "align": "center", "baseline": "middle"},
 "encoding": {"x": {"field": "v", "type": "quantitative", "scale": {"domain": [1100, 2400], "nice": false, "zero": false}, "axis": null}, "y": {"field": "depth", "type": "quantitative", "scale": {"domain": [0, 25], "reverse": true, "nice": false, "zero": false}, "axis": null}, "text": {"field": "label"}}},
{"data": {"name": "letters"}, "transform": [{"filter": "datum.p=='b'"}],
 "mark": {"type": "text", "fontSize": 18, "fontWeight": "bold", "align": "left", "baseline": "alphabetic", "color": "#000"},
 "encoding": {"x": {"field": "v", "type": "quantitative", "scale": {"domain": [1100, 2400], "nice": false, "zero": false}, "axis": null}, "y": {"field": "depth", "type": "quantitative", "scale": {"domain": [0, 25], "reverse": true, "nice": false, "zero": false}, "axis": null}, "text": {"field": "label"}}}
]
},
{
"width": 165, "height": 250,
"resolve": {"axis": {"x": "independent", "y": "independent"}},
"layer": [
{"data": {"name": "fits"}, "transform": [{"filter": "datum.p=='c' && datum.f!='r'"}],
 "mark": {"type": "line", "color": "#2f86c6", "strokeDash": [3, 2], "strokeWidth": 1.2, "interpolate": "catmull-rom"},
 "encoding": {
  "x": {"field": "v", "type": "quantitative", "scale": {"domain": [1100, 2420], "nice": false, "zero": false}, "axis": {"orient": "top", "values": [1100,1150,1200,1250,1300,1350,1400,1450,1500,1550,1600,1650,1700,1750,1800,1850,1900,1950,2000,2050,2100,2150,2200,2250,2300,2350,2400], "labels": false, "tickSize": 2.5, "grid": false, "title": null}},
  "y": {"field": "depth", "type": "quantitative", "scale": {"domain": [0, 25], "reverse": true, "nice": false, "zero": false}, "axis": {"orient": "left", "values": [0,1,2,3,4,5,6,7,8,9,10,11,12,13,14,15,16,17,18,19,20,21,22,23,24,25], "labels": false, "tickSize": 2.5, "grid": false, "title": null}},
  "detail": {"field": "f"}, "order": {"value": null}}},
{"data": {"name": "fits"}, "transform": [{"filter": "datum.p=='c' && datum.f=='r'"}],
 "mark": {"type": "line", "color": "#b5504c", "strokeDash": [3, 2], "strokeWidth": 1.2, "interpolate": "catmull-rom"},
 "encoding": {
  "x": {"field": "v", "type": "quantitative", "scale": {"domain": [1100, 2420], "nice": false, "zero": false}, "axis": null},
  "y": {"field": "depth", "type": "quantitative", "scale": {"domain": [0, 25], "reverse": true, "nice": false, "zero": false}, "axis": null},
  "order": {"value": null}}},
{"data": {"name": "pts"}, "transform": [{"filter": "datum.p=='c'"}],
 "mark": {"type": "point", "filled": false, "size": 28, "strokeWidth": 1, "opacity": 1},
 "encoding": {
  "x": {"field": "v", "type": "quantitative", "scale": {"domain": [1100, 2420], "nice": false, "zero": false}, "axis": {"orient": "top", "values": [1100,1300,1500,1700,1900,2100,2300], "format": "d", "labelAngle": 270, "title": "DIC (µmol kg⁻¹)", "grid": false, "titlePadding": 6}},
  "y": {"field": "depth", "type": "quantitative", "scale": {"domain": [0, 25], "reverse": true, "nice": false, "zero": false}, "axis": {"orient": "left", "values": [0,5,10,15,20,25], "title": null, "grid": true, "gridColor": "#e4e4e4"}},
  "color": {"field": "s", "type": "nominal", "scale": {"domain": ["Aug-9","Aug-10","Aug-11","Aug-12 & 13"], "range": ["#2f86c6","#2f86c6","#b5504c","#b5504c"]}, "legend": {"orient": "none", "legendX": 85, "legendY": 10, "title": null, "labelFontSize": 11.5, "symbolSize": 26, "symbolStrokeWidth": 1, "rowPadding": 0.5, "labelOffset": 4}},
  "shape": {"field": "s", "type": "nominal", "scale": {"domain": ["Aug-9","Aug-10","Aug-11","Aug-12 & 13"], "range": ["triangle-up","diamond","square","circle"]}, "legend": {"orient": "none", "legendX": 85, "legendY": 10, "title": null, "labelFontSize": 11.5, "symbolSize": 26, "symbolStrokeWidth": 1, "rowPadding": 0.5, "labelOffset": 4}}}},
{"data": {"name": "notes"}, "transform": [{"filter": "datum.p=='c' && datum.label=='Day 3, 4 & 5'"}],
 "mark": {"type": "text", "angle": 65, "fontSize": 12, "align": "center", "baseline": "middle"},
 "encoding": {"x": {"field": "v", "type": "quantitative", "scale": {"domain": [1100, 2420], "nice": false, "zero": false}, "axis": null}, "y": {"field": "depth", "type": "quantitative", "scale": {"domain": [0, 25], "reverse": true, "nice": false, "zero": false}, "axis": null}, "text": {"field": "label"}}},
{"data": {"name": "notes"}, "transform": [{"filter": "datum.p=='c' && datum.label=='Day 1 & 2'"}],
 "mark": {"type": "text", "angle": 60, "fontSize": 12, "align": "center", "baseline": "middle"},
 "encoding": {"x": {"field": "v", "type": "quantitative", "scale": {"domain": [1100, 2420], "nice": false, "zero": false}, "axis": null}, "y": {"field": "depth", "type": "quantitative", "scale": {"domain": [0, 25], "reverse": true, "nice": false, "zero": false}, "axis": null}, "text": {"field": "label"}}},
{"data": {"name": "letters"}, "transform": [{"filter": "datum.p=='c'"}],
 "mark": {"type": "text", "fontSize": 18, "fontWeight": "bold", "align": "left", "baseline": "alphabetic", "color": "#000"},
 "encoding": {"x": {"field": "v", "type": "quantitative", "scale": {"domain": [1100, 2420], "nice": false, "zero": false}, "axis": null}, "y": {"field": "depth", "type": "quantitative", "scale": {"domain": [0, 25], "reverse": true, "nice": false, "zero": false}, "axis": null}, "text": {"field": "label"}}}
]
}
]
},
{
"spacing": 63, "bounds": "flush",
"resolve": {"scale": {"color": "independent", "shape": "independent"}, "legend": {"color": "independent", "shape": "independent"}},
"hconcat": [
{
"width": 171, "height": 261,
"resolve": {"axis": {"x": "independent", "y": "independent"}},
"layer": [
{"data": {"name": "fits"}, "transform": [{"filter": "datum.p=='d' && datum.f!='r'"}],
 "mark": {"type": "line", "color": "#2f86c6", "strokeDash": [3, 2], "strokeWidth": 1.2, "interpolate": "catmull-rom"},
 "encoding": {
  "x": {"field": "v", "type": "quantitative", "scale": {"domain": [0, 300], "nice": false, "zero": false}, "axis": {"orient": "top", "values": [0,10,20,30,40,50,60,70,80,90,100,110,120,130,140,150,160,170,180,190,200,210,220,230,240,250,260,270,280,290,300], "labels": false, "tickSize": 2.5, "grid": false, "title": null}},
  "y": {"field": "depth", "type": "quantitative", "scale": {"domain": [0, 25], "reverse": true, "nice": false, "zero": false}, "axis": {"orient": "left", "values": [0,1,2,3,4,5,6,7,8,9,10,11,12,13,14,15,16,17,18,19,20,21,22,23,24,25], "labels": false, "tickSize": 2.5, "grid": false, "title": null}},
  "detail": {"field": "f"}, "order": {"value": null}}},
{"data": {"name": "fits"}, "transform": [{"filter": "datum.p=='d' && datum.f=='r'"}],
 "mark": {"type": "line", "color": "#b5504c", "strokeDash": [3, 2], "strokeWidth": 1.2, "interpolate": "catmull-rom"},
 "encoding": {
  "x": {"field": "v", "type": "quantitative", "scale": {"domain": [0, 300], "nice": false, "zero": false}, "axis": null},
  "y": {"field": "depth", "type": "quantitative", "scale": {"domain": [0, 25], "reverse": true, "nice": false, "zero": false}, "axis": null},
  "order": {"value": null}}},
{"data": {"name": "pts"}, "transform": [{"filter": "datum.p=='d'"}],
 "mark": {"type": "point", "filled": false, "size": 30, "strokeWidth": 1, "opacity": 1},
 "encoding": {
  "x": {"field": "v", "type": "quantitative", "scale": {"domain": [0, 300], "nice": false, "zero": false}, "axis": {"orient": "top", "values": [0,50,100,150,200,250,300], "labelAngle": 270, "title": "Dissolved O₂ (µmol kg⁻¹)", "grid": false, "titlePadding": 12}},
  "y": {"field": "depth", "type": "quantitative", "scale": {"domain": [0, 25], "reverse": true, "nice": false, "zero": false}, "axis": {"orient": "left", "values": [0,5,10,15,20,25], "title": "Depth (m)", "grid": true, "gridColor": "#333", "gridDash": [1.5, 1.5], "gridWidth": 1.3}},
  "color": {"field": "s", "type": "nominal", "scale": {"domain": ["Aug-9","Aug-10","Aug-11","Aug-12 & 13"], "range": ["#2f86c6","#2f86c6","#b5504c","#b5504c"]}, "legend": {"orient": "none", "legendX": 90, "legendY": 186, "title": null, "labelFontSize": 12, "symbolSize": 28, "symbolStrokeWidth": 1, "rowPadding": 5, "labelOffset": 5, "labelExpr": "datum.label == 'Aug-12 & 13' ? 'Aug-12–13' : datum.label"}},
  "shape": {"field": "s", "type": "nominal", "scale": {"domain": ["Aug-9","Aug-10","Aug-11","Aug-12 & 13"], "range": ["triangle-up","diamond","square","circle"]}, "legend": {"orient": "none", "legendX": 90, "legendY": 186, "title": null, "labelFontSize": 12, "symbolSize": 28, "symbolStrokeWidth": 1, "rowPadding": 5, "labelOffset": 5, "labelExpr": "datum.label == 'Aug-12 & 13' ? 'Aug-12–13' : datum.label"}}}},
{"data": {"name": "notes"}, "transform": [{"filter": "datum.p=='d' && datum.label=='Day 3, 4 & 5'"}],
 "mark": {"type": "text", "angle": -51, "fontSize": 12, "align": "center", "baseline": "middle"},
 "encoding": {"x": {"field": "v", "type": "quantitative", "scale": {"domain": [0, 300], "nice": false, "zero": false}, "axis": null}, "y": {"field": "depth", "type": "quantitative", "scale": {"domain": [0, 25], "reverse": true, "nice": false, "zero": false}, "axis": null}, "text": {"field": "label"}}},
{"data": {"name": "notes"}, "transform": [{"filter": "datum.p=='d' && datum.label=='Day 1 & 2'"}],
 "mark": {"type": "text", "angle": -47, "fontSize": 12, "align": "center", "baseline": "middle"},
 "encoding": {"x": {"field": "v", "type": "quantitative", "scale": {"domain": [0, 300], "nice": false, "zero": false}, "axis": null}, "y": {"field": "depth", "type": "quantitative", "scale": {"domain": [0, 25], "reverse": true, "nice": false, "zero": false}, "axis": null}, "text": {"field": "label"}}},
{"data": {"name": "letters"}, "transform": [{"filter": "datum.p=='d'"}],
 "mark": {"type": "text", "fontSize": 18, "fontWeight": "bold", "align": "left", "baseline": "alphabetic", "color": "#000"},
 "encoding": {"x": {"field": "v", "type": "quantitative", "scale": {"domain": [0, 300], "nice": false, "zero": false}, "axis": null}, "y": {"field": "depth", "type": "quantitative", "scale": {"domain": [0, 25], "reverse": true, "nice": false, "zero": false}, "axis": null}, "text": {"field": "label"}}}
]
},
{
"width": 166, "height": 261,
"resolve": {"axis": {"x": "independent", "y": "independent"}},
"layer": [
{"data": {"name": "fits"}, "transform": [{"filter": "datum.p=='e' && datum.f!='r'"}],
 "mark": {"type": "line", "color": "#2f86c6", "strokeDash": [3, 2], "strokeWidth": 1.2, "interpolate": "linear"},
 "encoding": {
  "x": {"field": "v", "type": "quantitative", "scale": {"domain": [7.2, 8.575], "nice": false, "zero": false}, "axis": {"orient": "top", "values": [7.2,7.25,7.3,7.35,7.4,7.45,7.5,7.55,7.6,7.65,7.7,7.75,7.8,7.85,7.9,7.95,8.0,8.05,8.1,8.15,8.2,8.25,8.3,8.35,8.4,8.45,8.5,8.55], "labels": false, "tickSize": 2.5, "grid": false, "title": null}},
  "y": {"field": "depth", "type": "quantitative", "scale": {"domain": [0, 25], "reverse": true, "nice": false, "zero": false}, "axis": {"orient": "left", "values": [0,1,2,3,4,5,6,7,8,9,10,11,12,13,14,15,16,17,18,19,20,21,22,23,24,25], "labels": false, "tickSize": 2.5, "grid": false, "title": null}},
  "detail": {"field": "f"}, "order": {"value": null}}},
{"data": {"name": "fits"}, "transform": [{"filter": "datum.p=='e' && datum.f=='r'"}],
 "mark": {"type": "line", "color": "#b5504c", "strokeDash": [3, 2], "strokeWidth": 1.2, "interpolate": "catmull-rom"},
 "encoding": {
  "x": {"field": "v", "type": "quantitative", "scale": {"domain": [7.2, 8.575], "nice": false, "zero": false}, "axis": null},
  "y": {"field": "depth", "type": "quantitative", "scale": {"domain": [0, 25], "reverse": true, "nice": false, "zero": false}, "axis": null},
  "order": {"value": null}}},
{"data": {"name": "pts"}, "transform": [{"filter": "datum.p=='e'"}],
 "mark": {"type": "point", "filled": false, "size": 30, "strokeWidth": 1, "opacity": 1},
 "encoding": {
  "x": {"field": "v", "type": "quantitative", "scale": {"domain": [7.2, 8.575], "nice": false, "zero": false}, "axis": {"orient": "top", "values": [7.2,7.4,7.6,7.8,8.0,8.2], "format": ".1f", "labelAngle": 270, "title": "pH", "grid": false, "titlePadding": 12}},
  "y": {"field": "depth", "type": "quantitative", "scale": {"domain": [0, 25], "reverse": true, "nice": false, "zero": false}, "axis": {"orient": "left", "values": [0,5,10,15,20,25], "title": "Depth (m)", "grid": true, "gridColor": "#333", "gridDash": [1.5, 1.5], "gridWidth": 1.3}},
  "color": {"field": "s", "type": "nominal", "scale": {"domain": ["Aug-9","Aug-10","Aug-11","Aug-12 & 13"], "range": ["#2f86c6","#2f86c6","#b5504c","#b5504c"]}, "legend": {"orient": "none", "legendX": 87, "legendY": 189, "title": null, "labelFontSize": 12, "symbolSize": 28, "symbolStrokeWidth": 1, "rowPadding": 5, "labelOffset": 5}},
  "shape": {"field": "s", "type": "nominal", "scale": {"domain": ["Aug-9","Aug-10","Aug-11","Aug-12 & 13"], "range": ["triangle-up","diamond","square","circle"]}, "legend": {"orient": "none", "legendX": 87, "legendY": 189, "title": null, "labelFontSize": 12, "symbolSize": 28, "symbolStrokeWidth": 1, "rowPadding": 5, "labelOffset": 5}}}},
{"data": {"name": "notes"}, "transform": [{"filter": "datum.p=='e' && datum.label=='Day 3, 4 & 5'"}],
 "mark": {"type": "text", "angle": -49, "fontSize": 12, "align": "center", "baseline": "middle"},
 "encoding": {"x": {"field": "v", "type": "quantitative", "scale": {"domain": [7.2, 8.575], "nice": false, "zero": false}, "axis": null}, "y": {"field": "depth", "type": "quantitative", "scale": {"domain": [0, 25], "reverse": true, "nice": false, "zero": false}, "axis": null}, "text": {"field": "label"}}},
{"data": {"name": "notes"}, "transform": [{"filter": "datum.p=='e' && datum.label=='Day 1 & 2'"}],
 "mark": {"type": "text", "angle": -52, "fontSize": 12, "align": "center", "baseline": "middle"},
 "encoding": {"x": {"field": "v", "type": "quantitative", "scale": {"domain": [7.2, 8.575], "nice": false, "zero": false}, "axis": null}, "y": {"field": "depth", "type": "quantitative", "scale": {"domain": [0, 25], "reverse": true, "nice": false, "zero": false}, "axis": null}, "text": {"field": "label"}}},
{"data": {"name": "letters"}, "transform": [{"filter": "datum.p=='e'"}],
 "mark": {"type": "text", "fontSize": 18, "fontWeight": "bold", "align": "left", "baseline": "alphabetic", "color": "#000"},
 "encoding": {"x": {"field": "v", "type": "quantitative", "scale": {"domain": [7.2, 8.575], "nice": false, "zero": false}, "axis": null}, "y": {"field": "depth", "type": "quantitative", "scale": {"domain": [0, 25], "reverse": true, "nice": false, "zero": false}, "axis": null}, "text": {"field": "label"}}}
]
},
{
"width": 165, "height": 261,
"resolve": {"axis": {"x": "independent", "y": "independent"}},
"layer": [
{"data": {"name": "fits"}, "transform": [{"filter": "datum.p=='f' && datum.f!='r'"}],
 "mark": {"type": "line", "color": "#2f86c6", "strokeDash": [3, 2], "strokeWidth": 1.2, "interpolate": "linear"},
 "encoding": {
  "x": {"field": "v", "type": "quantitative", "scale": {"domain": [0, 50], "nice": false, "zero": false}, "axis": {"orient": "top", "values": [0,2,4,6,8,10,12,14,16,18,20,22,24,26,28,30,32,34,36,38,40,42,44,46,48,50], "labels": false, "tickSize": 2.5, "grid": false, "title": null}},
  "y": {"field": "depth", "type": "quantitative", "scale": {"domain": [0, 25], "reverse": true, "nice": false, "zero": false}, "axis": {"orient": "left", "values": [0,1,2,3,4,5,6,7,8,9,10,11,12,13,14,15,16,17,18,19,20,21,22,23,24,25], "labels": false, "tickSize": 2.5, "grid": false, "title": null}},
  "detail": {"field": "f"}, "order": {"value": null}}},
{"data": {"name": "fits"}, "transform": [{"filter": "datum.p=='f' && datum.f=='r'"}],
 "mark": {"type": "line", "color": "#b5504c", "strokeDash": [3, 2], "strokeWidth": 1.2, "interpolate": "catmull-rom"},
 "encoding": {
  "x": {"field": "v", "type": "quantitative", "scale": {"domain": [0, 50], "nice": false, "zero": false}, "axis": null},
  "y": {"field": "depth", "type": "quantitative", "scale": {"domain": [0, 25], "reverse": true, "nice": false, "zero": false}, "axis": null},
  "order": {"value": null}}},
{"data": {"name": "pts"}, "transform": [{"filter": "datum.p=='f'"}],
 "mark": {"type": "point", "filled": false, "size": 30, "strokeWidth": 1, "opacity": 1},
 "encoding": {
  "x": {"field": "v", "type": "quantitative", "scale": {"domain": [0, 50], "nice": false, "zero": false}, "axis": {"orient": "top", "values": [0,10,20,30,40,50], "labelAngle": 270, "title": "H₂S (µmol kg⁻¹)", "grid": false, "titlePadding": 22}},
  "y": {"field": "depth", "type": "quantitative", "scale": {"domain": [0, 25], "reverse": true, "nice": false, "zero": false}, "axis": {"orient": "left", "values": [0,5,10,15,20,25], "title": "Depth (m)", "grid": true, "gridColor": "#333", "gridDash": [1.5, 1.5], "gridWidth": 1.3}},
  "color": {"field": "s", "type": "nominal", "scale": {"domain": ["Aug-9","Aug-10","Aug-11","Aug-12 & 13"], "range": ["#2f86c6","#2f86c6","#b5504c","#b5504c"]}, "legend": {"orient": "none", "legendX": 76, "legendY": 14, "title": null, "labelFontSize": 12, "symbolSize": 28, "symbolStrokeWidth": 1, "rowPadding": 4, "labelOffset": 5}},
  "shape": {"field": "s", "type": "nominal", "scale": {"domain": ["Aug-9","Aug-10","Aug-11","Aug-12 & 13"], "range": ["triangle-up","diamond","square","circle"]}, "legend": {"orient": "none", "legendX": 76, "legendY": 14, "title": null, "labelFontSize": 12, "symbolSize": 28, "symbolStrokeWidth": 1, "rowPadding": 4, "labelOffset": 5}}}},
{"data": {"name": "notes"}, "transform": [{"filter": "datum.p=='f' && datum.label=='Day 3, 4 & 5'"}],
 "mark": {"type": "text", "angle": 55, "fontSize": 12, "align": "center", "baseline": "middle"},
 "encoding": {"x": {"field": "v", "type": "quantitative", "scale": {"domain": [0, 50], "nice": false, "zero": false}, "axis": null}, "y": {"field": "depth", "type": "quantitative", "scale": {"domain": [0, 25], "reverse": true, "nice": false, "zero": false}, "axis": null}, "text": {"field": "label"}}},
{"data": {"name": "notes"}, "transform": [{"filter": "datum.p=='f' && datum.label!='Day 3, 4 & 5'"}],
 "mark": {"type": "text", "angle": -47, "fontSize": 12, "align": "center", "baseline": "middle"},
 "encoding": {"x": {"field": "v", "type": "quantitative", "scale": {"domain": [0, 50], "nice": false, "zero": false}, "axis": null}, "y": {"field": "depth", "type": "quantitative", "scale": {"domain": [0, 25], "reverse": true, "nice": false, "zero": false}, "axis": null}, "text": {"field": "label"}}},
{"data": {"name": "letters"}, "transform": [{"filter": "datum.p=='f'"}],
 "mark": {"type": "text", "fontSize": 18, "fontWeight": "bold", "align": "left", "baseline": "alphabetic", "color": "#000"},
 "encoding": {"x": {"field": "v", "type": "quantitative", "scale": {"domain": [0, 50], "nice": false, "zero": false}, "axis": null}, "y": {"field": "depth", "type": "quantitative", "scale": {"domain": [0, 25], "reverse": true, "nice": false, "zero": false}, "axis": null}, "text": {"field": "label"}}}
]
}
]
}
]
}
